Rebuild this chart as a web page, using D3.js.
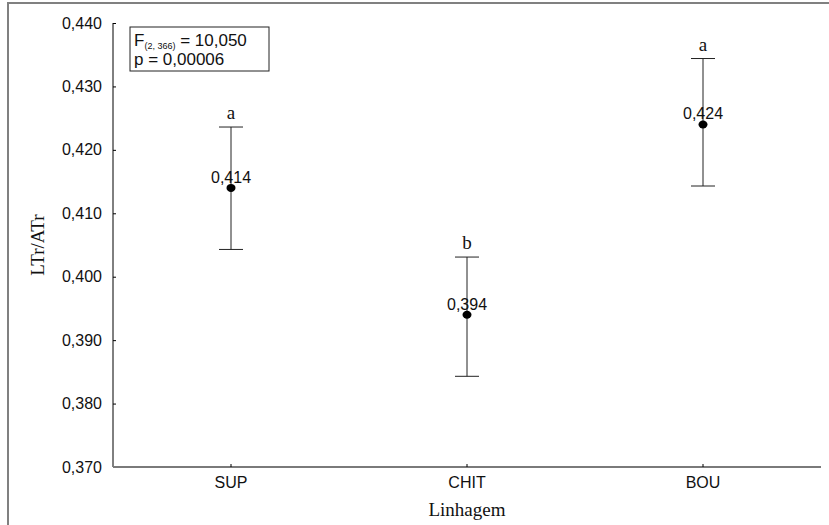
<!DOCTYPE html>
<html>
<head>
<meta charset="utf-8">
<script src="https://cdn.jsdelivr.net/npm/d3@7"></script>
<style>
  body { margin: 0; background: #fff; }
  svg { display: block; }
</style>
</head>
<body>
<svg id="chart"></svg>
<script>
const width = 829;
const height = 525;
const margin = {left: 113, right: 8, top: 23, bottom: 58};

// values
const groups = ['SUP', 'CHIT', 'BOU'];
const means = [0.414, 0.394, 0.424];
const upper = [0.4236, 0.4031, 0.4344];
const lower = [0.4043, 0.3843, 0.4143];
const letters = ['a', 'b', 'a'];
const yTicks = [0.370, 0.380, 0.390, 0.400, 0.410, 0.420, 0.430, 0.440];

const sans = '"Liberation Sans", Arial, sans-serif';
const serif = '"Liberation Serif", "Times New Roman", serif';
const comma = v => d3.format('.3f')(v).replace('.', ',');

const svg = d3.select('#chart')
  .attr('width', width)
  .attr('height', height);

// outer frame (top and left edges only are visible)
svg.append('path')
  .attr('d', `M8,${height} V3 H${width}`)
  .attr('fill', 'none')
  .attr('stroke', '#808080')
  .attr('stroke-width', 2);

const plotW = width - margin.left - margin.right;
const plotH = height - margin.top - margin.bottom;

const g = svg.append('g')
  .attr('transform', `translate(${margin.left}, ${margin.top})`);

const xScale = d3.scaleBand()
  .domain(groups)
  .range([0, plotW]);

const yScale = d3.scaleLinear()
  .domain([0.370, 0.440])
  .range([plotH, 0]);

// y axis, ticks pointing inward
const yAxis = g.append('g')
  .call(d3.axisLeft(yScale).tickValues(yTicks).tickSize(-3).tickPadding(11).tickFormat(comma));
yAxis.select('.domain').attr('d', `M0,0V${plotH}`).attr('stroke', '#000');
yAxis.selectAll('.tick line').attr('stroke', '#000');
yAxis.selectAll('text')
  .attr('font-family', sans)
  .attr('font-size', 16)
  .attr('fill', '#111');

// x axis
const xAxis = g.append('g')
  .attr('transform', `translate(0, ${plotH})`)
  .call(d3.axisBottom(xScale).tickSize(-3).tickPadding(10));
xAxis.select('.domain').attr('d', `M0,0H${plotW}`).attr('stroke', '#7a7a7a').attr('stroke-width', 2);
xAxis.selectAll('.tick line').attr('stroke', '#000');
xAxis.selectAll('text')
  .attr('font-family', sans)
  .attr('font-size', 16)
  .attr('fill', '#111');

// axis titles
svg.append('text')
  .text('Linhagem')
  .attr('x', margin.left + plotW / 2)
  .attr('y', 516)
  .attr('text-anchor', 'middle')
  .attr('font-family', serif)
  .attr('font-size', 19)
  .attr('fill', '#111');

const yLabelX = 44;
const yLabelY = margin.top + plotH / 2;
svg.append('text')
  .text('LTr/ATr')
  .attr('x', yLabelX)
  .attr('y', yLabelY)
  .attr('text-anchor', 'middle')
  .attr('transform', `rotate(-90, ${yLabelX}, ${yLabelY})`)
  .attr('font-family', serif)
  .attr('font-size', 19)
  .attr('fill', '#111');

// error bars
const capW = 24;
const bars = g.selectAll('.bar')
  .data(groups)
  .enter()
  .append('g')
  .attr('class', 'bar')
  .attr('transform', d => `translate(${xScale(d) + xScale.bandwidth() / 2}, 0)`);

bars.append('line')
  .attr('y1', (d, i) => yScale(upper[i]))
  .attr('y2', (d, i) => yScale(lower[i]))
  .attr('stroke', '#222');

bars.append('line')
  .attr('x1', -capW / 2).attr('x2', capW / 2)
  .attr('y1', (d, i) => yScale(upper[i]))
  .attr('y2', (d, i) => yScale(upper[i]))
  .attr('stroke', '#222');

bars.append('line')
  .attr('x1', -capW / 2).attr('x2', capW / 2)
  .attr('y1', (d, i) => yScale(lower[i]))
  .attr('y2', (d, i) => yScale(lower[i]))
  .attr('stroke', '#222');

bars.append('ellipse')
  .attr('cy', (d, i) => yScale(means[i]))
  .attr('rx', 4.5)
  .attr('ry', 4)
  .attr('fill', '#000');

bars.append('text')
  .text((d, i) => comma(means[i]))
  .attr('y', (d, i) => yScale(means[i]) - 5)
  .attr('text-anchor', 'middle')
  .attr('font-family', sans)
  .attr('font-size', 16)
  .attr('fill', '#111');

bars.append('text')
  .text((d, i) => letters[i])
  .attr('y', (d, i) => yScale(upper[i]) - 8)
  .attr('text-anchor', 'middle')
  .attr('font-family', serif)
  .attr('font-size', 19)
  .attr('fill', '#111');

// statistics box
const box = svg.append('g').attr('transform', 'translate(130, 27)');
box.append('rect')
  .attr('width', 139)
  .attr('height', 44)
  .attr('fill', '#fff')
  .attr('stroke', '#222');

const fLine = box.append('text')
  .attr('x', 4)
  .attr('y', 19)
  .attr('font-family', sans)
  .attr('font-size', 17)
  .attr('fill', '#111');
fLine.append('tspan').text('F');
fLine.append('tspan').text('(2, 366)').attr('font-size', 9).attr('dy', 3);
fLine.append('tspan').text(' = 10,050').attr('dy', -3);

box.append('text')
  .text('p = 0,00006')
  .attr('x', 4)
  .attr('y', 38)
  .attr('font-family', sans)
  .attr('font-size', 17)
  .attr('fill', '#111');
</script>
</body>
</html>
